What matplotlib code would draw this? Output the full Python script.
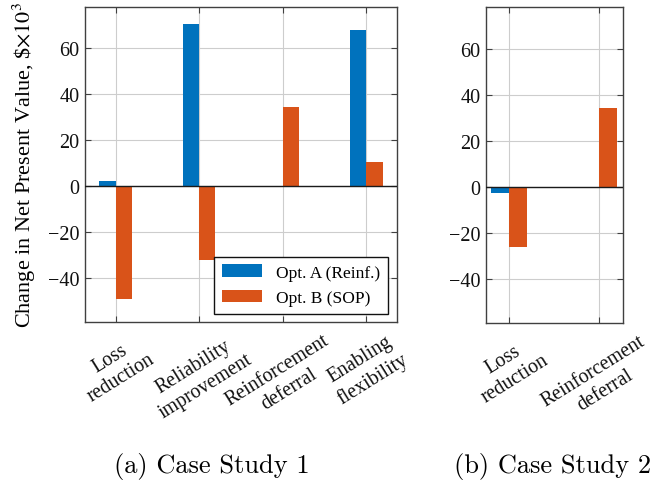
import matplotlib
matplotlib.use("Agg")
import matplotlib.pyplot as plt
import numpy as np

# ---- data ----
cats1 = ["Loss\nreduction", "Reliability\nimprovement", "Reinforcement\ndeferral", "Enabling\nflexibility"]
optA1 = [2.2, 70.3, 0.0, 67.7]
optB1 = [-48.9, -32.0, 34.3, 10.4]

cats2 = ["Loss\nreduction", "Reinforcement\ndeferral"]
optA2 = [-2.7, 0.0]
optB2 = [-26.0, 34.0]

series_names = ["Opt. A (Reinf.)", "Opt. B (SOP)"]
yticks = [-40, -20, 0, 20, 40, 60]
captions = ["(a) Case Study 1", "(b) Case Study 2"]

# ---- style ----
plt.rcParams['font.family'] = ['Liberation Serif', 'DejaVu Serif']
plt.rcParams['mathtext.fontset'] = 'stix'
BLUE = '#0072BD'
ORANGE = '#D95319'
SPINE = '#404040'
GRID = '#cdcdcd'
W = 0.195

fig = plt.figure(figsize=(6.62, 4.81), dpi=100)
ax1 = fig.add_axes([85/662, 1-323/481, 312/662, 315.5/481])
ax2 = fig.add_axes([486/662, 1-324/481, 137/662, 316/481])


def style(ax, cats, a, b, xlim):
    x = np.arange(1, len(cats)+1)
    ax.set_axisbelow(True)
    ax.bar(x - W/2, a, W, color=BLUE, label=series_names[0], zorder=2)
    ax.bar(x + W/2, b, W, color=ORANGE, label=series_names[1], zorder=2)
    ax.axhline(0, color='#1a1a1a', lw=1.0, zorder=3)
    ax.set_xlim(*xlim)
    ax.set_ylim(-59, 78)
    ax.set_yticks(yticks)
    ax.set_yticklabels([str(v).replace('-', '\u2212') for v in yticks], fontsize=14.5)
    ax.set_xticks(x)
    ax.set_xticklabels(cats, rotation=32, ha='center', va='top', fontsize=14.3,
                       multialignment='center', linespacing=1.25)
    ax.grid(True, color=GRID, lw=0.8)
    ax.tick_params(direction='in', length=4.5, width=0.8, color=SPINE,
                   top=True, right=True, labelcolor='#111111')
    ax.tick_params(axis='x', pad=6)
    ax.tick_params(axis='y', pad=4)
    for s in ax.spines.values():
        s.set_color(SPINE)
        s.set_linewidth(1.0)
    return x


style(ax1, cats1, optA1, optB1, (0.635, 4.365))
style(ax2, cats2, optA2, optB2, (0.744, 2.267))

ax1.set_ylabel(r"Change in Net Present Value, \$$\times10^3$", fontsize=16)
ax1.yaxis.set_label_coords(-0.15, 0.5)

leg = ax1.legend(loc='lower right', bbox_to_anchor=(0.971, 0.025), borderaxespad=0,
                 fontsize=12.5, fancybox=False, edgecolor='#111111', framealpha=1,
                 handlelength=2.3, handleheight=0.7, labelspacing=0.55,
                 borderpad=0.45, handletextpad=0.8)
leg.get_frame().set_linewidth(1.0)

fig.text(212/662, 1-466/481, captions[0], family='cmr10', fontsize=19, ha='center', va='center')
fig.text(553/662, 1-466/481, captions[1], family='cmr10', fontsize=19, ha='center', va='center')

fig.savefig("out.png", dpi=100)
